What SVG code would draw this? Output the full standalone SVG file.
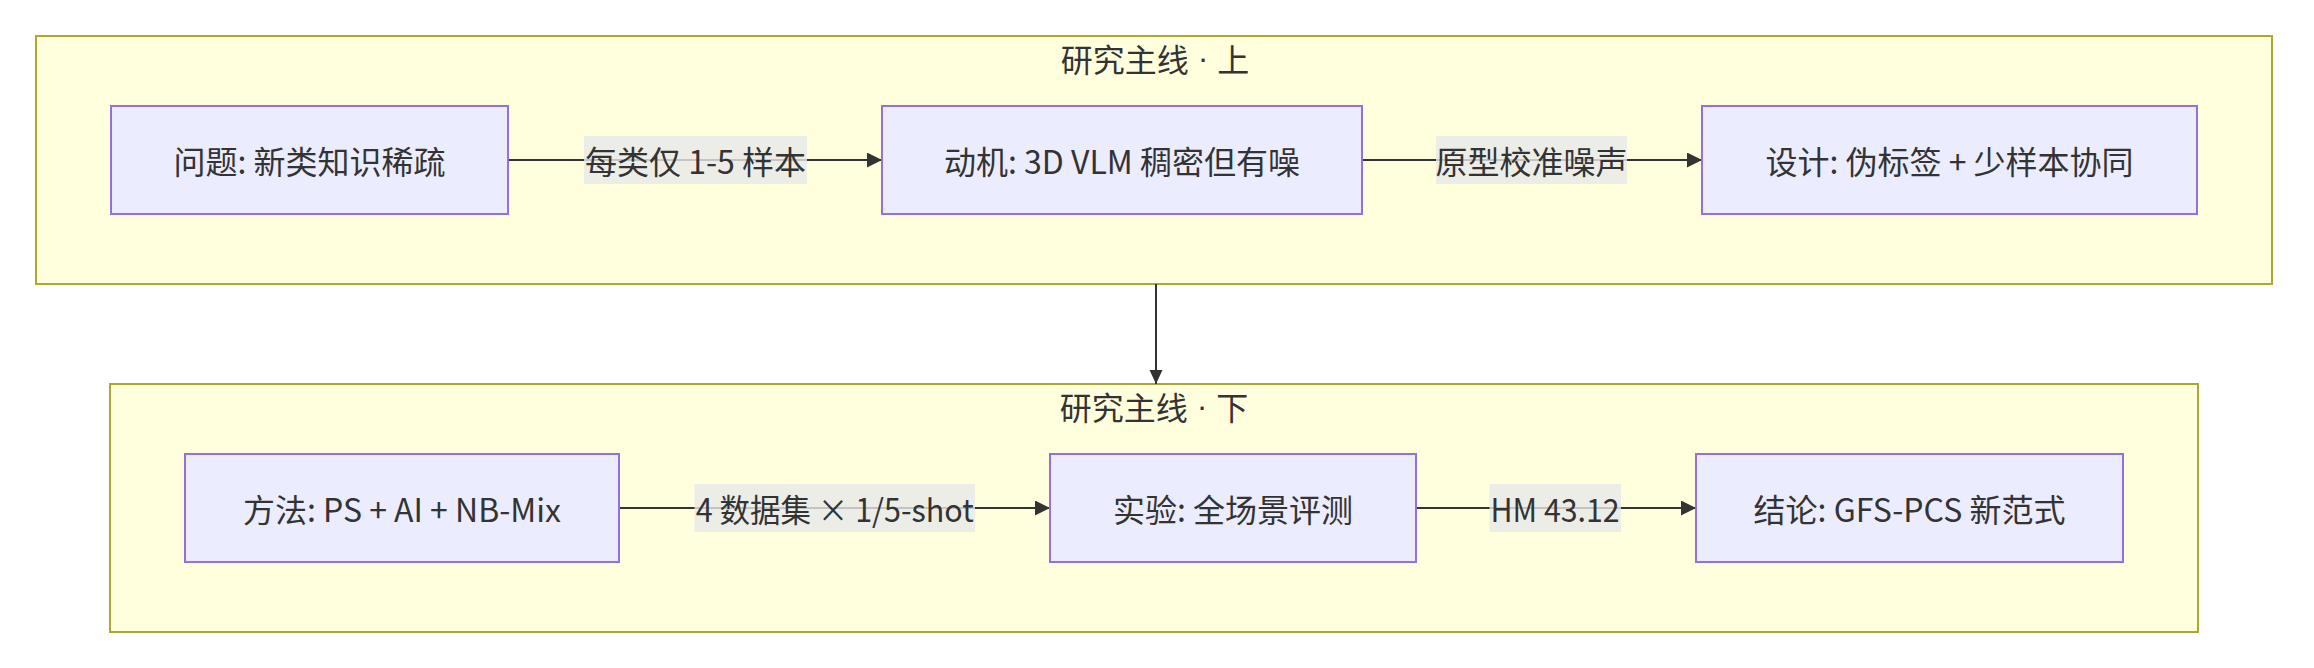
<svg xmlns="http://www.w3.org/2000/svg" width="2314" height="668" viewBox="0 0 2314 668">
<defs>
<style>
.cluster{fill:#ffffde;stroke:#aaaa33;stroke-width:2}
.node{fill:#ececff;stroke:#9370db;stroke-width:2}
.lbl{fill:#e8e8e8;fill-opacity:0.8}
.edge{stroke:#333;stroke-width:2;fill:none}
text{font-family:"Noto Sans CJK SC","Noto Sans",sans-serif;font-size:32px;fill:#333;text-anchor:middle;dominant-baseline:central}
.dot{font-family:"Liberation Sans",sans-serif}
</style>
<marker id="ah" markerWidth="16" markerHeight="16" refX="15" refY="7.5" orient="auto" markerUnits="userSpaceOnUse">
<path d="M0,0 L15,7.5 L0,15 Z" fill="#333"/>
</marker>
<marker id="ah2" markerWidth="14" markerHeight="16" refX="14" refY="6.5" orient="auto" markerUnits="userSpaceOnUse">
<path d="M0,0 L14,6.5 L0,13 Z" fill="#333"/>
</marker>
</defs>
<rect width="2314" height="668" fill="#ffffff"/>
<g id="cluster-top">
<rect class="cluster" x="36" y="36" width="2236" height="248"/>
<text x="1155" y="58">研究主线<tspan class="dot"> · </tspan>上</text>
</g>
<g id="cluster-bottom">
<rect class="cluster" x="110" y="384" width="2088" height="248"/>
<text x="1154" y="406">研究主线<tspan class="dot"> · </tspan>下</text>
</g>
<g id="connectors">
<line class="edge" x1="508" y1="160" x2="882" y2="160" marker-end="url(#ah)"/>
<line class="edge" x1="1362" y1="160" x2="1702" y2="160" marker-end="url(#ah)"/>
<line class="edge" x1="1156" y1="284" x2="1156" y2="384" stroke-width="1.5" marker-end="url(#ah2)"/>
<line class="edge" x1="619" y1="508" x2="1050" y2="508" marker-end="url(#ah)"/>
<line class="edge" x1="1416" y1="508" x2="1696" y2="508" marker-end="url(#ah)"/>
<rect class="lbl" x="584" y="136" width="223" height="48"/>
<text x="695.5" y="160" textLength="221" lengthAdjust="spacingAndGlyphs">每类仅 1-5 样本</text>
<rect class="lbl" x="1436" y="136" width="191" height="48"/>
<text x="1531.5" y="160">原型校准噪声</text>
<rect class="lbl" x="694.5" y="484" width="280.5" height="48"/>
<text x="834.75" y="508" textLength="278" lengthAdjust="spacingAndGlyphs">4 数据集 × 1/5-shot</text>
<rect class="lbl" x="1489.5" y="484" width="131.5" height="48"/>
<text x="1555" y="508" textLength="129" lengthAdjust="spacingAndGlyphs">HM 43.12</text>
</g>
<g id="n1">
<rect class="node" x="111" y="106" width="397" height="108"/>
<text x="309.5" y="160">问题: 新类知识稀疏</text>
</g>
<g id="n2">
<rect class="node" x="882" y="106" width="480" height="108"/>
<text x="1122" y="160">动机: 3D VLM 稠密但有噪</text>
</g>
<g id="n3">
<rect class="node" x="1702" y="106" width="495" height="108"/>
<text x="1949.5" y="160">设计: 伪标签 + 少样本协同</text>
</g>
<g id="n4">
<rect class="node" x="185" y="454" width="434" height="108"/>
<text x="402" y="508">方法: PS + AI + NB-Mix</text>
</g>
<g id="n5">
<rect class="node" x="1050" y="454" width="366" height="108"/>
<text x="1233" y="508">实验: 全场景评测</text>
</g>
<g id="n6">
<rect class="node" x="1696" y="454" width="427" height="108"/>
<text x="1909.5" y="508">结论: GFS-PCS 新范式</text>
</g>
</svg>
